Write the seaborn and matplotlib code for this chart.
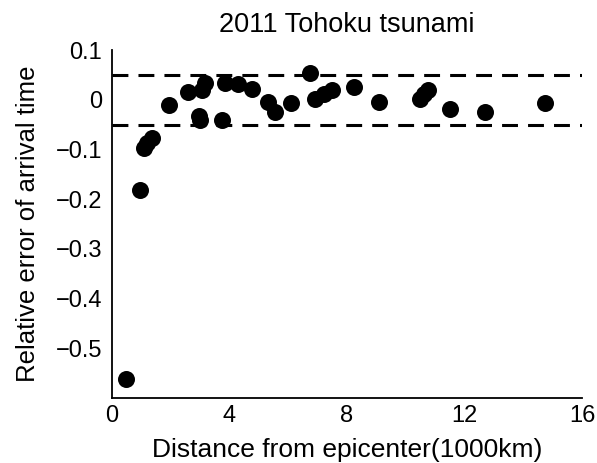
import matplotlib
matplotlib.use("Agg")
import matplotlib.pyplot as plt
import seaborn as sns
import pandas as pd

# Relative arrival-time error of tsunami at tide gauges vs distance
distance = [0.48, 0.95, 1.08, 1.20, 1.35, 1.95, 2.60, 2.95, 3.00, 3.05, 3.15,
            3.75, 3.84, 4.30, 4.75, 5.30, 5.54, 6.09, 6.73, 6.92, 7.20, 7.50,
            8.25, 9.09, 10.50, 10.62, 10.76, 11.50, 12.69, 14.73]
rel_error = [-0.561, -0.182, -0.098, -0.088, -0.077, -0.010, 0.015, -0.032,
             -0.040, 0.019, 0.033, -0.040, 0.033, 0.032, 0.022, -0.005,
             -0.025, -0.006, 0.053, 0.001, 0.011, 0.019, 0.026, -0.005,
             0.002, 0.011, 0.019, -0.019, -0.025, -0.006]
bounds = [0.05, -0.05]
xticks = [0, 4, 8, 12, 16]
yticks = [0.1, 0, -0.1, -0.2, -0.3, -0.4, -0.5]
ytick_labels = ["0.1", "0", "\u22120.1", "\u22120.2", "\u22120.3", "\u22120.4", "\u22120.5"]

df = pd.DataFrame({"distance": distance, "error": rel_error})

sns.set_style("white")
plt.rcParams["font.family"] = ["Liberation Sans", "DejaVu Sans"]
plt.rcParams["text.color"] = "black"
plt.rcParams["axes.labelcolor"] = "black"
plt.rcParams["xtick.color"] = "black"
plt.rcParams["ytick.color"] = "black"

fig = plt.figure(figsize=(5.97, 4.63), dpi=100)
ax = fig.add_axes([0.1876, 0.1404, 0.7874, 0.7516])

for b in bounds:
    ln = ax.axhline(b, color="black", lw=2.2, zorder=1)
    ln.set_dashes((5.2, 3.3))

sns.scatterplot(data=df, x="distance", y="error", ax=ax, color="black",
                s=150, marker="o", edgecolor="black", linewidth=0, zorder=3,
                legend=False)

ax.set_xlim(0, 16)
ax.set_ylim(-0.6, 0.1)
ax.set_xticks(xticks)
ax.set_xticklabels([str(t) for t in xticks], fontsize=17)
ax.set_yticks(yticks)
ax.set_yticklabels(ytick_labels, fontsize=17)
ax.tick_params(direction="in", length=4, width=1.2, colors="black")
ax.tick_params(axis="y", pad=7)
ax.tick_params(axis="x", pad=5)

for side in ("top", "right"):
    ax.spines[side].set_visible(False)
for side in ("left", "bottom"):
    ax.spines[side].set_color("black")
    ax.spines[side].set_linewidth(1.3)

ax.set_xlabel("Distance from epicenter(1000km)", fontsize=19, labelpad=8,
              color="black")
ax.set_ylabel("Relative error of arrival time", fontsize=18.5, labelpad=11,
              color="black")
ax.set_title("2011 Tohoku tsunami", fontsize=19.5, pad=13, color="black")

fig.savefig("out.png", dpi=100)
